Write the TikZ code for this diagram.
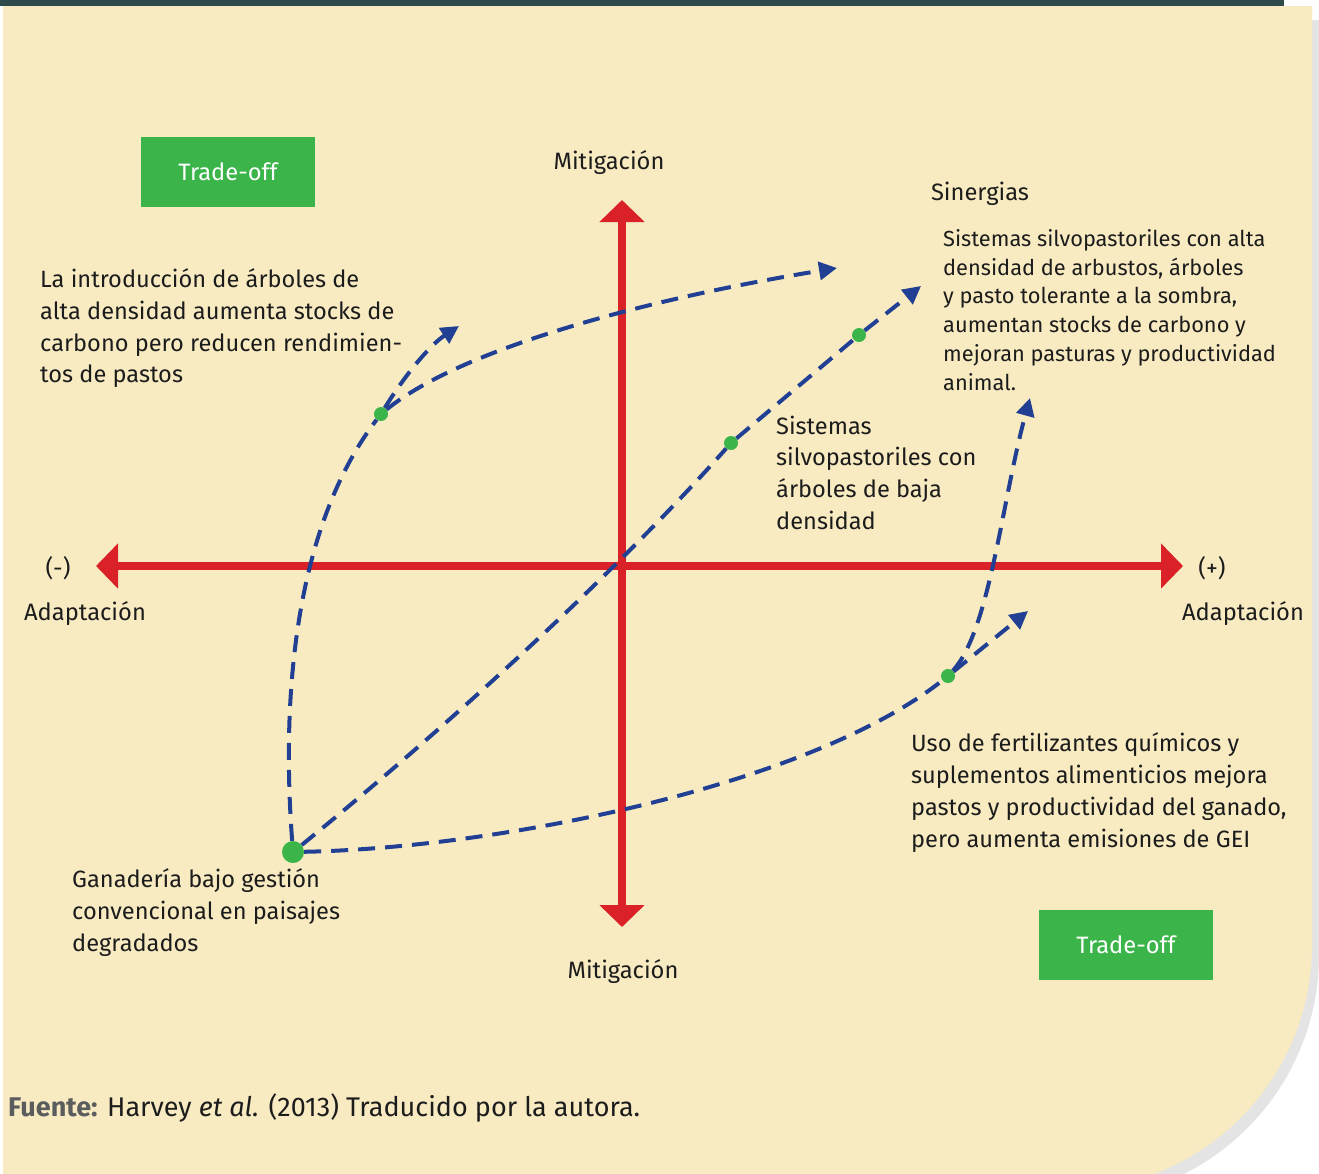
\documentclass[tikz,border=0pt]{standalone}
\usepackage{fontspec}
\setmainfont{Fira Sans}
\usetikzlibrary{positioning,calc,arrows.meta}

\definecolor{cream}{HTML}{F8EBC2}
\definecolor{darkbar}{HTML}{2F4A4B}
\definecolor{axred}{HTML}{DA2128}
\definecolor{dashblue}{HTML}{213F93}
\definecolor{boxgreen}{HTML}{3BB54A}
\definecolor{shadowgrey}{HTML}{E4E4E4}
\definecolor{srcgrey}{HTML}{5A5C5E}
\definecolor{inktext}{HTML}{1C1C1C}

\tikzset{
  axis/.style={axred, line width=8pt, {Triangle[length=22pt,width=44pt]}-{Triangle[length=22pt,width=44pt]}},
  trend/.style={dashblue, line width=4pt, dash pattern=on 17pt off 10pt, -{Triangle[length=18pt,width=18pt]}},
  trendnotip/.style={dashblue, line width=4pt, dash pattern=on 17pt off 10pt},
  bigdot/.style={circle, fill=boxgreen, minimum size=22pt, inner sep=0pt},
  smalldot/.style={circle, fill=boxgreen, minimum size=14pt, inner sep=0pt},
  tradebox/.style={fill=boxgreen, text=white, minimum width=174pt, minimum height=70pt, inner sep=0pt, font=\fontsize{23.7}{28}\selectfont},
  lbl/.style={text=inktext, inner sep=0pt, font=\fontsize{23.7}{28}\selectfont},
  note/.style={text=inktext, anchor=west, align=left, inner sep=0pt, font=\fontsize{23.6}{31.7}\selectfont},
  smallnote/.style={text=inktext, anchor=west, align=left, inner sep=0pt, font=\fontsize{21.8}{28.8}\selectfont}
}

\begin{document}
\begin{tikzpicture}[x=1pt,y=-1pt]
\useasboundingbox (0,0) rectangle (1319,1173);
\clip (0,0) rectangle (1319,1173);

% background panel
\fill[shadowgrey] (10,20) -- (1319,20) -- (1319,955) arc[start angle=0,end angle=90,radius=245] -- (10,1200) -- cycle;
\fill[cream] (3,6) -- (1312,6) -- (1312,945) arc[start angle=0,end angle=90,radius=245] -- (3,1190) -- cycle;
\fill[darkbar] (0,0) rectangle (1284,6);

% axes
\coordinate (mtop) at (622,200);
\coordinate (mbot) at (622,927);
\coordinate (aleft) at (96,566);
\coordinate (aright) at (1183,566);
\draw[axis] (mbot) -- (mtop);
\draw[axis] (aleft) -- (aright);

% dots
\node[bigdot] (g0) at (293,852) {};
\node[smalldot] (g1) at (381,414) {};
\node[smalldot] (g2) at (731,443) {};
\node[smalldot] (g3) at (859,335) {};
\node[smalldot] (g4) at (948,676) {};

% arrow ends
\coordinate (t1) at (459,326);
\coordinate (t2) at (837,268);
\coordinate (t3) at (921,286);
\coordinate (t4) at (1028,611);
\coordinate (t5) at (1030,398);

% pathways
\draw[trendnotip] (g0) .. controls (280,680) and (300,520) .. (g1);
\draw[trend] (g1) .. controls (405,375) and (430,345) .. (t1);
\draw[trend] (g1) .. controls (460,350) and (640,300) .. (t2);
\draw[trendnotip] (g0) .. controls (425,745) and (605,585) .. (g2);
\draw[trendnotip] (g2) -- (g3);
\draw[trend] (g3) -- (t3);
\draw[trendnotip] (g0) .. controls (500,848) and (810,785) .. (g4);
\draw[trend] (g4) -- (t4);
\draw[trend] (g4) .. controls (990,630) and (1002,500) .. (t5);

% axis labels
\node[lbl] (mup) at (609,163) {Mitigación};
\node[lbl] (mdown) at (623,972) {Mitigación};
\node[lbl] (neg) at (58,568) {(-)};
\node[lbl] (adl) at (85,614) {Adaptación};
\node[lbl] (pos) at (1212,568) {(+)};
\node[lbl] (adr) at (1243,614) {Adaptación};
\node[lbl] (syn) at (980,194) {Sinergias};

% trade-off boxes
\node[tradebox] (tbox1) at (228,172) {Trade-off};
\node[tradebox] (tbox2) at (1126,944.5) {Trade-off};

% notes
\node[note] (nA) at (40,328.5) {La introducción de árboles de\\alta densidad aumenta stocks de\\carbono pero reducen rendimien-\\tos de pastos};
\node[smallnote] (nB) at (943,310) {Sistemas silvopastoriles con alta\\densidad de arbustos, árboles\\y pasto tolerante a la sombra,\\aumentan stocks de carbono y\\mejoran pasturas y productividad\\animal.};
\node[note] (nC) at (776,472.5) {Sistemas\\silvopastoriles con\\árboles de baja\\densidad};
\node[note] (nD) at (911,792.5) {Uso de fertilizantes químicos y\\suplementos alimenticios mejora\\pastos y productividad del ganado,\\pero aumenta emisiones de GEI};
\node[note] (nE) at (72,912.5) {Ganadería bajo gestión\\convencional en paisajes\\degradados};

% source
\node[lbl, anchor=west, font=\fontsize{27}{30}\selectfont] (src) at (8,1108) {\textcolor{srcgrey}{\textbf{Fuente:}} Harvey \textit{et al.} (2013) Traducido por la autora.};
\end{tikzpicture}
\end{document}
